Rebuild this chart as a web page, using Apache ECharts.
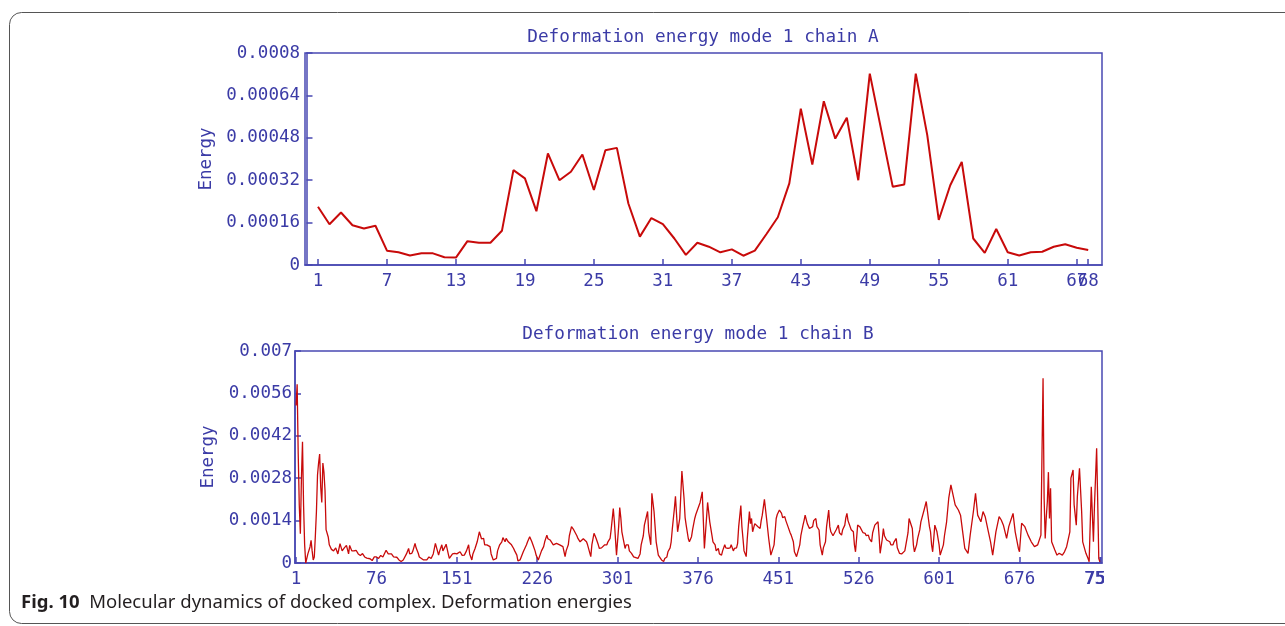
<!DOCTYPE html>
<html>
<head>
<meta charset="utf-8">
<script src="https://cdn.jsdelivr.net/npm/echarts@6/dist/echarts.min.js"></script>
<style>
html,body{margin:0;padding:0;background:#fff;}
#chart{width:1285px;height:626px;}
</style>
</head>
<body>
<div id="chart"></div>
<script>
// ---------- Chain A (residues 1..68) ----------
const energyA = [0.00022,0.000154,0.000198,0.00015,0.000138,0.000148,0.000054,0.000048,0.000036,0.000044,
0.000044,0.000029,0.000028,0.00009,0.000084,0.000084,0.000129,0.000358,0.000327,0.000203,
0.000421,0.00032,0.000352,0.000417,0.000283,0.000433,0.000442,0.000232,0.000107,0.000177,
0.000154,0.0001,0.000038,0.000084,0.000069,0.000048,0.000059,0.000035,0.000054,0.000116,
0.00018,0.000308,0.00059,0.000379,0.000618,0.000477,0.000556,0.00032,0.000722,0.000509,
0.000295,0.000304,0.000722,0.00049,0.00017,0.000301,0.000389,0.0001,0.000046,0.000136,
0.000048,0.000036,0.000048,0.00005,0.000069,0.000078,0.000065,0.000057];
const ticksA = [1,7,13,19,25,31,37,43,49,55,61,67];
const lastTickA = [68];
const yTicksA = [0,0.00016,0.00032,0.00048,0.00064,0.0008];

// ---------- Chain B ----------
const residuesB = [1,2,3,4,5,6,7,8,9,10,
12,14,15,16,17,18,19,20,21,22,
23,24,25,26,27,28,29,31,32,34,
36,38,40,42,44,46,48,50,51,53,
55,57,59,61,63,65,67,70,72,74,
76,78,80,82,85,87,88,90,92,95,
97,99,101,102,104,106,107,109,110,112,
113,115,116,118,120,123,125,127,129,131,
134,135,137,138,140,141,143,144,147,149,
151,154,156,158,160,162,163,165,166,168,
170,172,174,176,177,179,180,182,183,185,
186,188,189,191,193,194,196,197,199,200,
202,204,205,207,208,210,213,214,216,217,
219,221,222,224,225,227,228,230,232,233,
235,236,238,239,241,242,244,245,247,250,
252,253,255,256,258,260,261,263,264,266,
267,269,270,272,273,276,277,279,280,281,
283,284,286,287,289,291,292,294,295,297,
298,300,302,303,304,305,308,309,311,312,
314,316,317,320,322,323,325,326,329,330,
332,333,335,337,339,342,344,345,347,348,
350,351,352,354,355,357,359,361,363,364,
365,367,368,370,371,373,374,376,378,380,
382,385,387,389,390,392,393,395,396,398,
399,401,402,404,406,407,409,410,412,413,
414,416,417,418,419,421,422,424,425,426,
427,429,430,432,434,435,436,438,440,442,
444,447,449,450,452,454,455,457,458,460,
462,463,465,466,468,471,472,474,475,476,
478,480,481,483,484,486,487,489,490,492,
493,495,496,498,499,500,502,503,505,507,
508,510,511,513,514,515,516,517,519,521,
522,523,524,525,527,528,530,532,533,535,
536,538,539,541,542,544,545,546,548,549,
550,552,553,555,556,558,559,561,562,564,
566,567,569,570,572,573,576,577,578,580,
581,583,584,587,589,591,592,593,594,595,
596,597,599,601,602,605,606,608,610,612,
614,616,619,621,623,625,628,630,633,635,
637,640,642,644,647,649,651,654,657,659,
661,664,666,668,670,672,675,676,678,681,
684,687,690,693,696,697,698,699,700,701,
702,703,704,705,706,709,711,713,716,718,
720,723,724,726,727,729,730,732,734,735,
738,740,741,743,745,746,748,749,750,751];
const energyB = [0.0052,0.0059,0.0036,0.0019,0.00097,0.0028,0.0040,0.0019,0.0006,0.0,
0.0003,0.00053,0.00075,0.0004,0.0001,0.0002,0.0009,0.0017,0.0029,0.0033,
0.0036,0.0025,0.0020,0.0033,0.0030,0.0024,0.0011,0.00086,0.0006,0.00045,
0.0004,0.0005,0.0003,0.00064,0.0004,0.0005,0.00058,0.0003,0.00058,0.0004,
0.0004,0.00042,0.0003,0.00025,0.00031,0.0002,0.00016,0.00014,0.00008,0.0002,
0.0002,0.00015,0.00025,0.0002,0.00042,0.0003,0.00036,0.0003,0.0002,0.00019,
0.0001,0.00005,0.0001,0.00015,0.0003,0.00048,0.0003,0.00032,0.0004,0.00065,
0.0005,0.00032,0.0002,0.00015,0.0001,0.0001,0.0002,0.00015,0.0003,0.00065,
0.00026,0.0004,0.0006,0.0004,0.00054,0.00062,0.0003,0.00015,0.0003,0.00032,
0.0003,0.00037,0.00025,0.00026,0.0004,0.0006,0.0003,0.0001,0.0003,0.00048,
0.0007,0.00103,0.0008,0.00081,0.0006,0.0006,0.00055,0.00054,0.0003,0.0001,
0.00005,0.00015,0.0004,0.0006,0.0007,0.00084,0.0007,0.00081,0.0007,0.0007,
0.0006,0.00048,0.0004,0.00026,0.00007,0.0001,0.00037,0.0004,0.0006,0.0007,
0.00087,0.0007,0.0006,0.0004,0.00026,0.0001,0.00015,0.0004,0.00054,0.0007,
0.00092,0.0008,0.00076,0.0007,0.0006,0.0006,0.00065,0.0006,0.0006,0.00054,
0.00021,0.0004,0.0006,0.0009,0.0012,0.0011,0.00109,0.0009,0.00081,0.0007,
0.0007,0.0008,0.00081,0.0007,0.0006,0.00021,0.0006,0.00098,0.0009,0.00081,
0.0006,0.00048,0.0005,0.00054,0.0006,0.0006,0.0007,0.00081,0.0011,0.0018,
0.00136,0.00026,0.0012,0.00183,0.0015,0.00103,0.00048,0.0006,0.0006,0.0004,
0.00032,0.0002,0.00015,0.00015,0.0003,0.0006,0.0009,0.00125,0.0017,0.00103,
0.0006,0.0023,0.0017,0.0007,0.00026,0.0001,0.00005,0.00015,0.0002,0.00037,
0.0005,0.0007,0.0011,0.0018,0.0022,0.00103,0.00147,0.00304,0.00214,0.0015,
0.00125,0.0008,0.0007,0.00087,0.0011,0.00147,0.0016,0.0018,0.002,0.00235,
0.00048,0.002,0.00136,0.00092,0.0007,0.0006,0.0004,0.00048,0.0003,0.00026,
0.0004,0.0006,0.0005,0.00048,0.0005,0.0006,0.0004,0.00048,0.0005,0.00065,
0.0012,0.0019,0.0012,0.00081,0.0004,0.00021,0.0008,0.0017,0.0013,0.00147,
0.00103,0.0013,0.00136,0.0012,0.00114,0.0014,0.00158,0.0021,0.00147,0.00081,
0.00026,0.0006,0.00147,0.0016,0.00175,0.00164,0.0015,0.00153,0.0014,0.0012,
0.001,0.00092,0.0007,0.00037,0.00021,0.0006,0.0009,0.00125,0.0014,0.00158,
0.0013,0.00114,0.0012,0.0012,0.0014,0.00147,0.0012,0.00109,0.0006,0.00026,
0.0005,0.0007,0.0012,0.00175,0.0012,0.00103,0.0009,0.00087,0.0011,0.00125,
0.001,0.00092,0.0011,0.00125,0.0015,0.00164,0.0014,0.00136,0.0011,0.00103,
0.0006,0.00037,0.0008,0.00125,0.0012,0.0012,0.001,0.00098,0.0009,0.00092,
0.0008,0.0007,0.001,0.00125,0.0012,0.00136,0.0009,0.00032,0.0008,0.00114,
0.0009,0.00076,0.0007,0.0007,0.0006,0.0006,0.0007,0.00081,0.0005,0.00032,
0.0003,0.00026,0.0004,0.0006,0.001,0.00147,0.00114,0.0006,0.00037,0.0006,
0.00081,0.0011,0.00136,0.00175,0.00203,0.00147,0.0012,0.00103,0.0006,0.00037,
0.0008,0.00125,0.00103,0.0006,0.00026,0.0006,0.0009,0.00136,0.00214,0.00258,
0.00225,0.00192,0.00175,0.00158,0.00103,0.00048,0.00032,0.00092,0.0017,0.0023,
0.00158,0.00136,0.0017,0.00153,0.00103,0.0007,0.00026,0.00103,0.00153,0.00142,
0.00125,0.00081,0.0012,0.00142,0.00164,0.00103,0.00048,0.00037,0.00131,0.0012,
0.00092,0.0007,0.00054,0.0006,0.00092,0.0036,0.0061,0.00214,0.00081,0.0015,
0.00203,0.003,0.00147,0.00247,0.0007,0.00043,0.00026,0.00032,0.00026,0.00037,
0.00054,0.00103,0.0028,0.00307,0.00192,0.00125,0.00219,0.00313,0.0017,0.0007,
0.00032,0.00015,0.00004,0.00252,0.0007,0.00192,0.00379,0.00203,0.00015,0.00004];
const ticksB = [1,76,151,226,301,376,451,526,601,676,751];
const lastTickB = [752];
const yTicksB = [0,0.0014,0.0028,0.0042,0.0056,0.007];

const titleA = 'Deformation energy mode 1 chain A';
const titleB = 'Deformation energy mode 1 chain B';
const yName = 'Energy';
const captionBold = 'Fig. 10';
const captionText = 'Molecular dynamics of docked complex. Deformation energies';

// ---------- styles ----------
const BLUE_TXT = '#3b3ba6';
const BLUE_LINE = '#4848b2';
const RED = '#c80a0a';
const MONO = '"DejaVu Sans Mono", monospace';
const TICK_FS = 17.5;

const fmtY = v => (Math.abs(v) < 1e-12 ? '0' : String(parseFloat(v.toFixed(6))));

function xAxisCfg(gridIndex, min, max, ticks, showLine) {
  return {
    type: 'value', gridIndex, min, max, position: 'bottom', offset: 0,
    axisLine: {show: showLine, onZero: false, lineStyle: {color: BLUE_LINE, width: 1.5}},
    axisTick: {show: true, inside: true, length: 6, customValues: ticks, lineStyle: {color: BLUE_LINE, width: 1.5}},
    axisLabel: {show: true, customValues: ticks, margin: 7, color: BLUE_TXT, fontFamily: MONO, fontSize: TICK_FS, hideOverlap: false,
                showMinLabel: true, showMaxLabel: true},
    splitLine: {show: false}
  };
}
function yAxisCfg(gridIndex, max, ticks, gap, margin) {
  return {
    type: 'value', gridIndex, min: 0, max,
    name: yName, nameLocation: 'middle', nameGap: gap,
    nameTextStyle: {color: BLUE_TXT, fontFamily: MONO, fontSize: TICK_FS},
    axisLine: {show: true, lineStyle: {color: BLUE_LINE, width: 1.5}},
    axisTick: {show: true, inside: true, length: 6, customValues: ticks, lineStyle: {color: BLUE_LINE, width: 1.5}},
    axisLabel: {show: true, customValues: ticks, margin, color: BLUE_TXT, fontFamily: MONO, fontSize: TICK_FS, formatter: fmtY},
    splitLine: {show: false}
  };
}

const chart = echarts.init(document.getElementById('chart'), null, {renderer: 'canvas'});
chart.setOption({
  backgroundColor: '#ffffff',
  animation: false,
  title: [
    {text: titleA, left: 703, textAlign: 'center', top: 28, padding: 0,
     textStyle: {color: BLUE_TXT, fontFamily: MONO, fontSize: 17.7, fontWeight: 'normal'}},
    {text: titleB, left: 698, textAlign: 'center', top: 325, padding: 0,
     textStyle: {color: BLUE_TXT, fontFamily: MONO, fontSize: 17.7, fontWeight: 'normal'}}
  ],
  grid: [
    {left: 305, top: 53, width: 797, height: 212, show: true, borderColor: BLUE_LINE, borderWidth: 1.5, backgroundColor: 'transparent'},
    {left: 295, top: 351, width: 807, height: 212, show: true, borderColor: BLUE_LINE, borderWidth: 1.5, backgroundColor: 'transparent'}
  ],
  xAxis: [
    xAxisCfg(0, -0.13, 69.2, ticksA, true),
    xAxisCfg(1, 0, 753, ticksB, true),
    xAxisCfg(0, -0.13, 69.2, lastTickA, false),
    xAxisCfg(1, 0, 753, lastTickB, false)
  ],
  yAxis: [
    yAxisCfg(0, 0.0008, yTicksA, 88, 5),
    yAxisCfg(1, 0.007, yTicksB, 78, 3)
  ],
  series: [
    {type: 'line', xAxisIndex: 0, yAxisIndex: 0, showSymbol: false, smooth: false,
     lineStyle: {color: RED, width: 2}, itemStyle: {color: RED},
     data: energyA.map((v, i) => [i + 1, v])},
    {type: 'line', xAxisIndex: 1, yAxisIndex: 1, showSymbol: false, smooth: false,
     lineStyle: {color: RED, width: 1.3}, itemStyle: {color: RED},
     data: residuesB.map((r, i) => [r, energyB[i]])}
  ],
  graphic: [
    {type: 'rect', z: 100, silent: true, shape: {x: 1104, y: 567, width: 181, height: 26}, style: {fill: '#ffffff'}},
    {type: 'rect', z: 101, silent: true, shape: {x: 9.5, y: 12.5, width: 1400, height: 611, r: 12},
     style: {fill: 'none', stroke: '#555555', lineWidth: 1}},
    {type: 'text', z: 101, silent: true, x: 21, y: 603,
     style: {text: '{b|' + captionBold + '}  ' + captionText,
             rich: {b: {fontWeight: 'bold', fontFamily: '"Noto Sans", sans-serif', fontSize: 18.5, fill: '#231f20'}},
             fontFamily: '"Noto Sans", sans-serif', fontSize: 18.5, fill: '#231f20', verticalAlign: 'middle'}}
  ]
});
</script>
</body>
</html>
